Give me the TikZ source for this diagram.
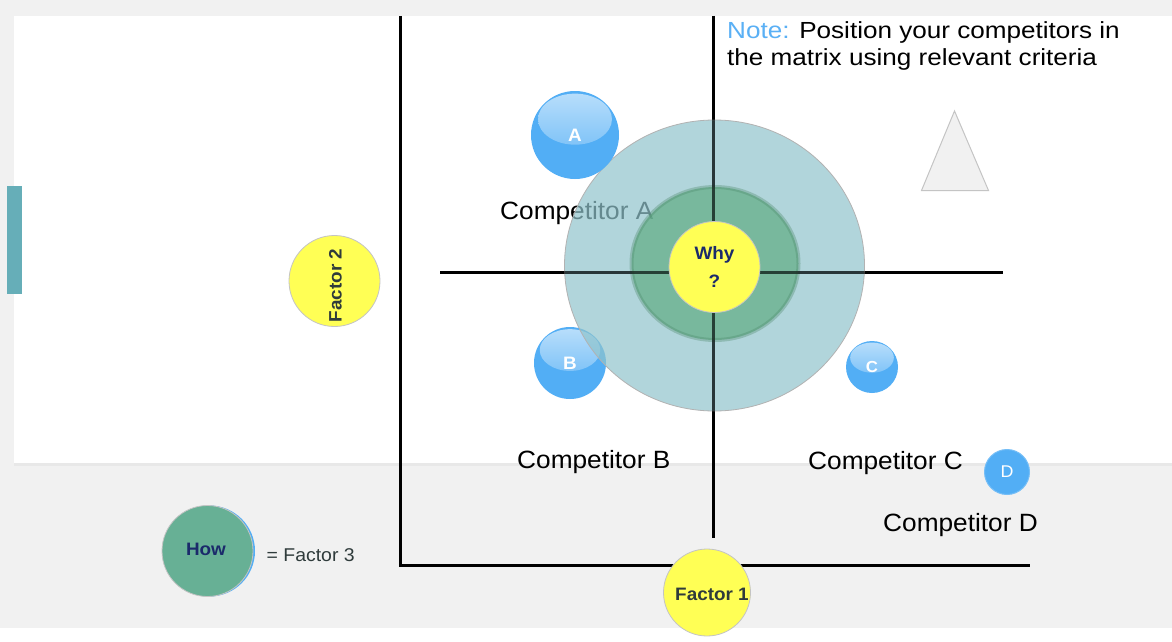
\documentclass[tikz,border=0pt]{standalone}
\usepackage{fontspec}
\setmainfont{Liberation Sans}[FakeStretch=1.05]
\newfontfamily\notefont{Liberation Sans}[FakeStretch=1.12]
\usetikzlibrary{calc,shapes.geometric}
\definecolor{bggray}{HTML}{F1F1F1}
\definecolor{tealbar}{HTML}{66AEB8}
\definecolor{tealc}{RGB}{144,196,204}
\definecolor{greenc}{RGB}{96,173,132}
\definecolor{yelc}{HTML}{FFFF55}
\definecolor{navy}{HTML}{1B2A6B}
\definecolor{bblue}{HTML}{52AEF5}
\definecolor{howgreen}{HTML}{67B095}
\definecolor{noteblue}{HTML}{5AB0F5}
\definecolor{dgray}{HTML}{2F3B3B}
\definecolor{cgray}{HTML}{C4C4C4}
\begin{document}
\begin{tikzpicture}[x=1pt,y=-1pt,
  axis/.style={line width=3pt, black, line join=miter},
  bubble/.style={circle, fill=bblue, text=white, inner sep=0pt, minimum size=#1,
    font=\bfseries\fontsize{18}{18}\selectfont,
    path picture={\shade[top color=bblue!40!white, middle color=bblue!78!white, bottom color=bblue!94!white]
      ($(path picture bounding box.north)!0.32!(path picture bounding box.south)$)
      ellipse [x radius=0.42*#1, y radius=0.29*#1];}},
  flatbubble/.style={circle, fill=bblue, draw=bblue!80!white, line width=1pt, text=white,
    inner sep=0pt, minimum size=#1, font=\fontsize{17}{17}\selectfont},
  comp/.style={anchor=base west, inner sep=0pt, font=\fontsize{25}{25}\selectfont, text=black},
  notetxt/.style={anchor=base west, inner sep=0pt, font=\notefont\fontsize{23.3}{27}\selectfont, text=black},
  yellowdisc/.style={circle, fill=yelc, draw=cgray, line width=0.8pt, inner sep=0pt, minimum size=#1},
  boldlbl/.style={font=\bfseries\fontsize{18}{18}\selectfont, text=dgray, inner sep=0pt}
]
\useasboundingbox (0,0) rectangle (1172,642);
% background and panel
\fill[bggray] (0,0) rectangle (1172,628);
\fill[white] (0,628) rectangle (1172,642);
\fill[black!9] (14,463) rectangle (1172,465.5);
\fill[white] (14,16) rectangle (1172,463);
\fill[tealbar] (7,186) rectangle (22,294);

% axes
\coordinate (lt) at (400,16);
\coordinate (lc) at (400,565);
\coordinate (br) at (1030,565);
\coordinate (vt) at (713,16);
\coordinate (vb) at (713,538);
\coordinate (hl) at (440,272);
\coordinate (hr) at (1003,272);
\draw[axis] (lt) -- (lc) -- (br);
\draw[axis] (vt) -- (vb);
\draw[axis] (hl) -- (hr);

% items under the target
\node[comp] (compA) at (500,219) {Competitor A};
\node[bubble=72pt] (bB) at (570,363) {B};

% target
\node[ellipse, minimum width=300pt, minimum height=291pt, inner sep=0pt,
      fill=tealc, fill opacity=0.7, draw=black!30, line width=0.8pt] (outer) at (714.5,265.5) {};
\node[ellipse, minimum width=167pt, minimum height=153pt, inner sep=0pt,
      fill=greenc, fill opacity=0.7, draw=greenc!80!black, draw opacity=0.35, line width=4pt] (mid) at (715,263.5) {};
% axis lines show through the target
\draw[axis, draw opacity=0.6] (vt) -- (vb);
\draw[axis, draw opacity=0.6] (hl) -- (hr);
\node[yellowdisc=91pt, align=center, font=\bfseries\fontsize{18}{28.5}\selectfont, text=navy] (why) at (714.5,267) {Why\\?};

% competitors
\node[bubble=88pt] (bA) at (575,135) {A};
\node[bubble=52pt, font=\bfseries\fontsize{16}{16}\selectfont] (bC) at (872,367) {C};
\node[flatbubble=45pt] (bD) at (1007,472) {D};
\node[comp] (compB) at (517,468) {Competitor B};
\node[comp] (compC) at (808,469) {Competitor C};
\node[comp] (compD) at (883,531) {Competitor D};

% note
\node[notetxt] (note1) at (727,38) {\textcolor{noteblue}{Note:} Position your competitors in};
\node[notetxt] (note2) at (727,66) {the matrix using relevant criteria};

% triangle
\coordinate (ta) at (954.5,111);
\coordinate (tl) at (921.5,190.5);
\coordinate (tr) at (988.5,190.5);
\draw[fill=bggray, draw=cgray, line width=1pt, line join=miter] (ta) -- (tl) -- (tr) -- cycle;

% factor 2
\node[yellowdisc=91pt] (f2) at (334.5,281) {};
\node[boldlbl, rotate=90] (f2t) at (335.5,285.5) {Factor 2};

% how = factor 3
\node[circle, fill=bblue, minimum size=91pt, inner sep=0pt] (howb) at (209.5,551) {};
\node[circle, fill=howgreen, draw=cgray, line width=0.8pt, minimum size=91pt, inner sep=0pt] (how) at (207.5,551) {};
\node[font=\bfseries\fontsize{18}{18}\selectfont, text=navy, inner sep=0pt] (howt) at (206,549) {How};
\node[font=\fontsize{18.5}{18.5}\selectfont, text=dgray, anchor=west, inner sep=0pt] (f3) at (266.5,555) {= Factor 3};

% factor 1
\node[yellowdisc=87pt] (f1) at (707,592.5) {};
\node[boldlbl] (f1t) at (712,594) {Factor 1};
\end{tikzpicture}
\end{document}
